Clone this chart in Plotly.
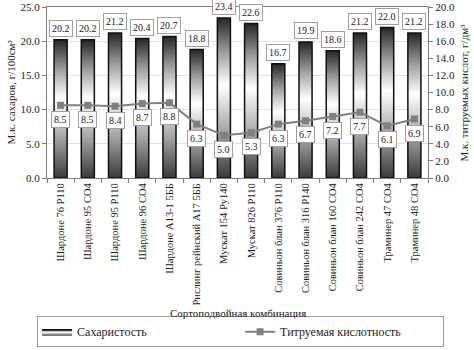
import plotly.graph_objects as go

categories = ["Шардоне 76 Р110", "Шардоне 95 СО4", "Шардоне 95 Р110", "Шардоне 96 СО4",
              "Шардоне А13-1 5ББ", "Рислинг рейнский А17 5ББ", "Мускат 154 Ру140",
              "Мускат 826 Р110", "Совиньон блан 376 Р110", "Совиньон блан 316 Р140",
              "Совиньон блан 160 СО4", "Совиньон блан 242 СО4", "Траминер 47 СО4",
              "Траминер 48 СО4"]
sugar = [20.2, 20.2, 21.2, 20.4, 20.7, 18.8, 23.4, 22.6, 16.7, 19.9, 18.6, 21.2, 22.0, 21.2]
acidity = [8.5, 8.5, 8.4, 8.7, 8.8, 6.3, 5.0, 5.3, 6.3, 6.7, 7.2, 7.7, 6.1, 6.9]
left_ticks = [0, 5, 10, 15, 20, 25]
right_ticks = [0, 2, 4, 6, 8, 10, 12, 14, 16, 18, 20]

SERIF = "Liberation Serif"
HW = 0.24
fig = go.Figure()

gradient = [[0, "#3a3a3a"], [0.3, "#a8a8a8"], [0.58, "#ffffff"], [0.78, "#a0a0a0"], [1, "#262626"]]
for i, h in enumerate(sugar):
    fig.add_trace(go.Scatter(
        x=[i - HW, i - HW, i + HW, i + HW, i - HW], y=[0, h, h, 0, 0],
        mode="lines", fill="toself",
        fillgradient=dict(type="vertical", colorscale=gradient, start=0, stop=h),
        line=dict(color="#111111", width=1.5),
        name="Сахаристость", legendgroup="s", showlegend=(i == 0),
        hoverinfo="skip",
    ))

fig.add_trace(go.Scatter(
    x=list(range(len(categories))), y=acidity, yaxis="y2",
    mode="lines+markers", name="Титруемая кислотность",
    line=dict(color="#808080", width=2),
    marker=dict(symbol="square", size=7, color="#808080"),
))

ann = []
for i, v in enumerate(sugar):
    ann.append(dict(x=i, y=v, xref="x", yref="y", text=f"{v:.1f}", showarrow=False,
                    yshift=11, bgcolor="white", bordercolor="#a0a0a0", borderwidth=1,
                    borderpad=2, font=dict(family=SERIF, size=10, color="#222")))
for i, v in enumerate(acidity):
    ann.append(dict(x=i, y=v, xref="x", yref="y2", text=f"{v:.1f}", showarrow=False,
                    yshift=-14, bgcolor="white", bordercolor="#a0a0a0", borderwidth=1,
                    borderpad=2, font=dict(family=SERIF, size=10, color="#222")))
ann.append(dict(x=0.5, y=-0.79, xref="paper", yref="paper", text="Сортоподвойная комбинация",
                xanchor="center", yanchor="middle",
                showarrow=False, font=dict(family=SERIF, size=11, color="#222")))
ann.append(dict(x=-0.097, y=0.5, xref="paper", yref="paper", text="М.к. сахаров, г/100см³",
                xanchor="center", yanchor="middle",
                textangle=-90, showarrow=False, font=dict(family=SERIF, size=11, color="#222")))
ann.append(dict(x=1.092, y=0.5, xref="paper", yref="paper", text="М.к. титруемых кислот, г/дм³",
                xanchor="center", yanchor="middle",
                textangle=-90, showarrow=False, font=dict(family=SERIF, size=11, color="#222")))

fig.update_layout(
    width=474, height=350,
    margin=dict(l=47, r=46, t=7, b=172, autoexpand=False),
    paper_bgcolor="white", plot_bgcolor="white",
    font=dict(family=SERIF, size=11, color="#222"),
    xaxis=dict(range=[-0.5, len(categories) - 0.5], tickvals=list(range(len(categories))),
               ticktext=categories, tickangle=-90, ticks="", showgrid=False, zeroline=False,
               showline=True, linecolor="#7f7f7f", mirror=True,
               tickfont=dict(family=SERIF, size=10.5),
               minor=dict(tickvals=[i - 0.5 for i in range(len(categories) + 1)],
                          ticks="outside", ticklen=4, tickcolor="#7f7f7f", showgrid=False)),
    yaxis=dict(range=[0, 25], tickvals=left_ticks, tickformat=".1f", ticks="outside",
               ticklen=4, tickcolor="#7f7f7f", showline=True, linecolor="#7f7f7f",
               showgrid=True, gridcolor="#e2e2e2", zeroline=False,
               tickfont=dict(family=SERIF, size=11)),
    yaxis2=dict(range=[0, 20], tickvals=right_ticks, tickformat=".1f", overlaying="y",
                side="right", ticks="outside", ticklen=4, tickcolor="#7f7f7f",
                showline=True, linecolor="#7f7f7f", showgrid=False, zeroline=False,
                tickfont=dict(family=SERIF, size=11)),
    legend=dict(orientation="h", x=-0.026, xanchor="left", y=-0.99, yanchor="bottom",
                bordercolor="#999", borderwidth=1, bgcolor="white",
                entrywidth=158, entrywidthmode="pixels", itemwidth=30,
                font=dict(family=SERIF, size=12)),
    annotations=ann,
    showlegend=True,
)

fig.write_html("out.html")
